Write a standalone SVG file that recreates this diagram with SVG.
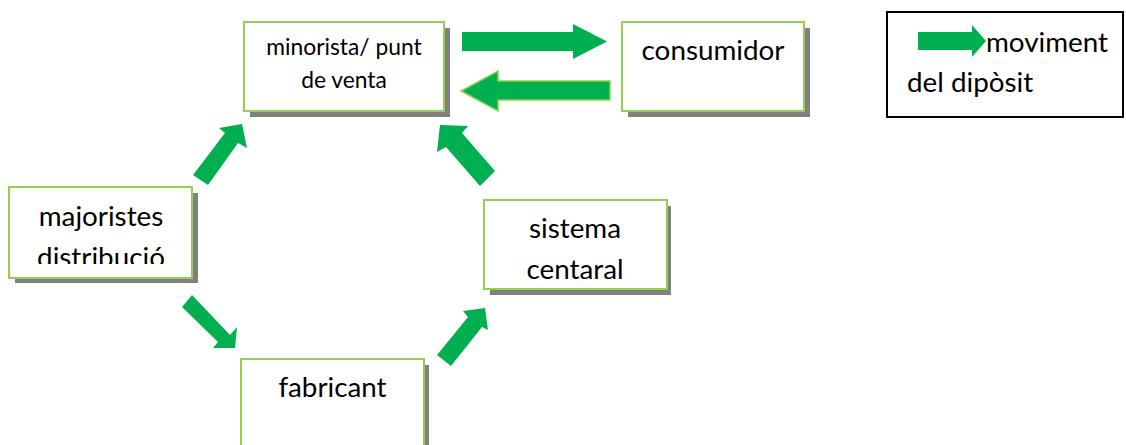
<svg xmlns="http://www.w3.org/2000/svg" width="1126" height="445" viewBox="0 0 1126 445">
  <style>
    .shadow { fill: #808080; }
    .box { fill: #ffffff; stroke: #92d050; stroke-width: 2; }
    .lbl { font-family: Lato, "Open Sans", sans-serif; font-size: 27.8px; fill: #000000; text-anchor: middle; }
    .small { font-size: 22.8px; }
    .arrow { fill: #00b050; }
    .legend-box { fill: #ffffff; stroke: #000000; stroke-width: 2; }
  </style>
  <defs>
    <clipPath id="clip-majoristes">
      <rect x="9" y="187" width="183" height="77"/>
    </clipPath>
  </defs>
  <rect width="1126" height="445" fill="#ffffff"/>

  <!-- retail / point of sale -->
  <g id="minorista">
    <rect class="shadow" x="250" y="28" width="200" height="89"/>
    <rect class="box" x="244" y="22" width="200" height="89"/>
    <text class="lbl small" x="344" y="55">minorista/ punt</text>
    <text class="lbl small" x="344" y="88">de venta</text>
  </g>

  <!-- consumer -->
  <g id="consumidor">
    <rect class="shadow" x="628" y="28" width="182" height="89"/>
    <rect class="box" x="622" y="22" width="182" height="89"/>
    <text class="lbl" x="713" y="60">consumidor</text>
  </g>

  <!-- wholesale / distribution -->
  <g id="majoristes">
    <rect class="shadow" x="15" y="193" width="183" height="90"/>
    <rect class="box" x="9" y="187" width="183" height="91"/>
    <text class="lbl" x="101" y="225.5">majoristes</text>
    <text class="lbl" x="101" y="267" clip-path="url(#clip-majoristes)">distribució</text>
  </g>

  <!-- central system -->
  <g id="sistema">
    <rect class="shadow" x="490" y="206" width="181" height="89"/>
    <rect class="box" x="484" y="200" width="183" height="89"/>
    <text class="lbl" x="575" y="238">sistema</text>
    <text class="lbl" x="575" y="279">centaral</text>
  </g>

  <!-- manufacturer -->
  <g id="fabricant">
    <rect class="shadow" x="247" y="365" width="182" height="100"/>
    <rect class="box" x="241" y="359" width="183" height="100"/>
    <text class="lbl" x="332.5" y="397">fabricant</text>
  </g>

  <!-- legend -->
  <g id="legend">
    <rect class="legend-box" x="887" y="12" width="236" height="105"/>
    <polygon class="arrow" points="918,32 972,32 972,25 986,41 972,57 972,50 918,50"/>
    <text class="lbl" x="986" y="52" style="text-anchor:start">moviment</text>
    <text class="lbl" x="907" y="92" style="text-anchor:start">del dipòsit</text>
  </g>

  <!-- deposit flow arrows -->
  <g id="connectors">
    <polygon class="arrow" points="462,32 573,32 573,24 607,41.5 573,59 573,51 462,51"/>
    <polygon class="arrow" points="610,81 498,81 498,71 461,91 498,111 498,100 610,100" stroke="#92d050" stroke-width="1.5" stroke-linejoin="miter"/>
    <polygon class="arrow" points="193,175 225,133 219,128 242,124 247,148 238,143 208,185"/>
    <polygon class="arrow" points="440,125 468,126 462,133 495,171 480,186 446,147 437,152"/>
    <polygon class="arrow" points="192,295 230,335 237,327 235,348 213,348 218,342 182,307"/>
    <polygon class="arrow" points="437,355 468,317 463,311 485,308 488,330 482,327 451,366"/>
  </g>
</svg>
